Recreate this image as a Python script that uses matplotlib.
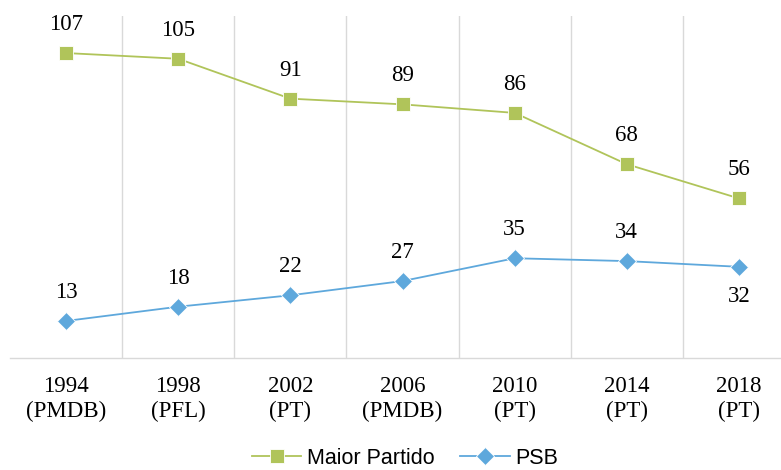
import matplotlib
matplotlib.use("Agg")
import matplotlib.pyplot as plt
import numpy as np

# data
anos = ["1994\n(PMDB)", "1998\n(PFL)", "2002\n(PT)", "2006\n(PMDB)",
        "2010\n(PT)", "2014\n(PT)", "2018\n(PT)"]
maior_partido = [107, 105, 91, 89, 86, 68, 56]
psb = [13, 18, 22, 27, 35, 34, 32]

verde = "#B0C45A"
azul = "#5EA8DC"
grade = "#D9D9D9"

fig = plt.figure(figsize=(7.81, 4.70), dpi=100)
ax = fig.add_axes([10/781, 112/470, 785/781, 342/470])

x = np.arange(len(anos))
ax.plot(x, maior_partido, color=verde, lw=1.3, marker="s", ms=10.5,
        mfc=verde, mec="white", mew=0.6, label="Maior Partido", zorder=3)
ax.plot(x, psb, color=azul, lw=1.3, marker="D", ms=9.5,
        mfc=azul, mec="white", mew=0.6, label="PSB", zorder=3)

# data labels
for xi, v in zip(x, maior_partido):
    ax.annotate(str(v), (xi, v), xytext=(0, 16.5), textcoords="offset points",
                ha="center", va="baseline", fontsize=16.5, family="Liberation Serif")
for i, (xi, v) in enumerate(zip(x, psb)):
    dy = -25 if i == len(psb) - 1 else 16.5
    ax.annotate(str(v), (xi, v), xytext=(0, dy), textcoords="offset points",
                ha="center", va="baseline", fontsize=16.5, family="Liberation Serif")

ax.set_xlim(-0.5, len(anos) - 0.5)
ax.set_ylim(0, 120)
ax.set_xticks(x)
ax.set_xticklabels(anos, fontsize=16.5, family="Liberation Serif", linespacing=1.25)
ax.set_xticks(np.arange(1, len(anos)) - 0.5, minor=True)
ax.tick_params(axis="x", which="both", length=0, pad=13)
ax.set_yticks([])
ax.grid(axis="x", which="minor", color=grade, lw=1)
ax.set_axisbelow(True)

for s in ["top", "right", "left"]:
    ax.spines[s].set_visible(False)
ax.spines["bottom"].set_color(grade)
ax.spines["bottom"].set_linewidth(1)

leg = fig.legend(loc="center", bbox_to_anchor=(405/781, 1 - 458/470), ncol=2,
                 frameon=False, handlelength=2.3, handletextpad=0.25,
                 columnspacing=1.2,
                 prop={"family": "Liberation Sans", "size": 15.5})

fig.savefig("out.png", dpi=100)
